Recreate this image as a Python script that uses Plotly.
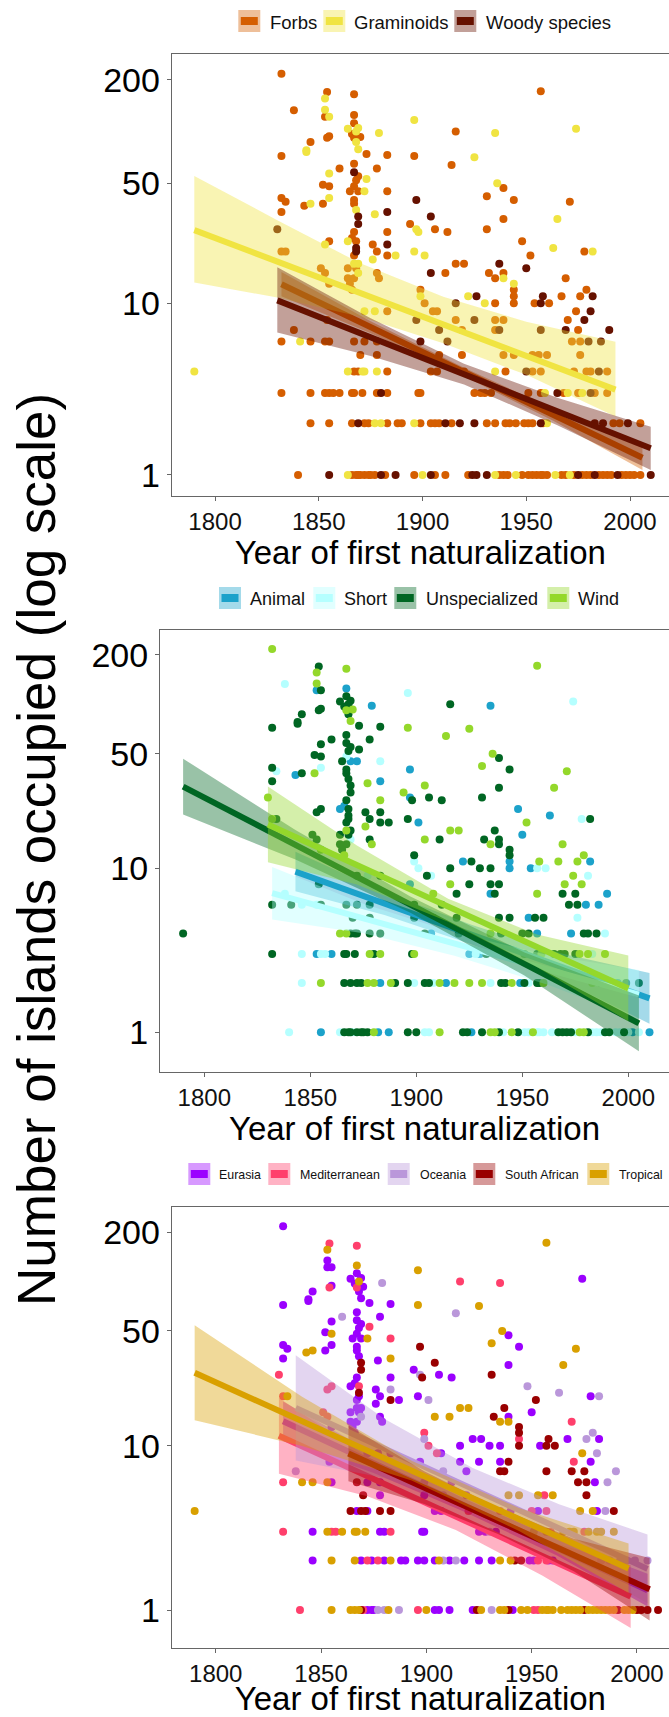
import plotly.graph_objects as go

W, H = 669, 1717
FONT = "Liberation Sans, Arial, Helvetica, sans-serif"

# ---------------- data ----------------
year_first = [
    1832, 1957, 1854, 1867, 1853, 1838, 1853, 1853, 1855, 1867,
    1867, 1869, 1868, 1896, 1974, 1864, 1916, 1935, 1879, 1855,
    1854, 1867, 1870, 1846, 1844, 1844, 1832, 1873, 1883, 1896,
    1925, 1914, 1878, 1860, 1867, 1867, 1855, 1869, 1873, 1852,
    1855, 1936, 1939, 1865, 1867, 1872, 1883, 1931, 1832, 1834,
    1855, 1897, 1944, 1971, 1846, 1843, 1852, 1867, 1832, 1883,
    1877, 1904, 1939, 1965, 1894, 1830, 1897, 1898, 1906, 1912,
    1931, 1948, 1855, 1853, 1864, 1883, 1883, 1963, 1978, 1982,
    1876, 1878, 1896, 1901, 1887, 1952, 1883, 1832, 1834, 1868,
    1916, 1920, 1937, 1876, 1869, 1904, 1911, 1950, 1932, 1935,
    1939, 1939, 1969, 1878, 1879, 1851, 1899, 1944, 1979, 1899,
    1922, 1926, 1944, 1944, 1944, 1958, 1967, 1976, 1982, 1916,
    1930, 1935, 1954, 1957, 1961, 1974, 1981, 1883, 1901, 1905,
    1907, 1877, 1872, 1970, 1978, 1939, 1925, 1897, 1916, 1935,
    1937, 1935, 1957, 1969, 1975, 1990, 1908, 1919, 1838, 1854,
    1832, 1841, 1846, 1853, 1855, 1867, 1872, 1878, 1899, 1912,
    1972, 1976, 1980, 1986, 1870, 1878, 1899, 1908, 1919, 1939,
    1944, 1953, 1956, 1960, 1976, 1864, 1867, 1869, 1871, 1872,
    1878, 1883, 1904, 1907, 1920, 1935, 1940, 1950, 1953, 1957,
    1973, 1979, 1981, 1985, 1989, 1832, 1846, 1853, 1855, 1857,
    1860, 1866, 1867, 1871, 1878, 1880, 1883, 1898, 1899, 1925,
    1928, 1930, 1933, 1951, 1957, 1959, 1965, 1968, 1970, 1975,
    1977, 1981, 1983, 1989, 1846, 1855, 1866, 1869, 1872, 1874,
    1877, 1880, 1883, 1888, 1890, 1896, 1899, 1904, 1906, 1908,
    1911, 1914, 1918, 1925, 1931, 1935, 1940, 1942, 1945, 1949,
    1951, 1953, 1957, 1958, 1960, 1983, 1987, 1992, 1995, 1999, 2005,
    1840, 1855, 1864, 1866, 1868, 1869, 1870, 1872, 1874, 1875,
    1877, 1880, 1882, 1887, 1896, 1900, 1904, 1906, 1911, 1922,
    1924, 1926, 1931, 1935, 1937, 1939, 1941, 1945, 1948, 1951,
    1953, 1955, 1957, 1958, 1960, 1964, 1967, 1969, 1971, 1973,
    1975, 1977, 1979, 1981, 1983, 1985, 1987, 1989, 1991, 1994,
    1996, 1998, 2000, 2002, 2005, 2010,
    1790,
    1868, 1869, 1866, 1868, 1869, 1867, 1868, 1869, 1869, 1867,
    1866, 1868, 1868, 1867, 1867, 1868, 1869, 1867, 1866, 1864,
    1865, 1853, 1855, 1864,
]
islands = [
    217, 172, 170, 165, 156, 133, 134, 122, 122, 125,
    112, 105, 100, 117, 104, 104, 100, 98, 98, 94,
    92, 92, 93, 87, 78, 76, 72, 74, 73, 72,
    71, 64, 61, 61, 65, 58, 57, 55, 53, 49,
    48, 50, 47, 45, 48, 45, 45, 42, 41, 39,
    41, 40, 40, 39, 38, 37, 38, 38, 34, 34,
    33, 32, 31, 31, 29, 27, 27, 26, 27, 26,
    27, 23, 23, 22, 23, 26, 22, 21, 20, 20,
    22, 20, 20, 19, 19, 19, 19, 20, 20, 20,
    17, 17, 17, 18, 17, 15, 15, 16, 15, 14,
    15, 14, 14, 15, 14, 16, 12, 13, 12, 11,
    11, 11, 12, 11, 10, 11, 11, 11, 11, 10,
    10, 10, 10, 10, 10, 9, 9, 9, 10, 9,
    9, 9, 9, 8, 8, 8, 8, 8, 8, 8,
    7, 7, 7, 7, 7, 7, 7, 7, 7, 8,
    6, 6, 6, 6, 6, 6, 6, 6, 6, 6,
    6, 6, 6, 6, 5, 5, 5, 5, 5, 5,
    5, 5, 5, 5, 5, 4, 4, 4, 4, 4,
    4, 4, 4, 4, 4, 4, 4, 4, 4, 4,
    4, 4, 4, 4, 4, 3, 3, 3, 3, 3,
    3, 3, 3, 3, 3, 3, 3, 3, 3, 3,
    3, 3, 3, 3, 3, 3, 3, 3, 3, 3,
    3, 3, 3, 3, 2, 2, 2, 2, 2, 2,
    2, 2, 2, 2, 2, 2, 2, 2, 2, 2,
    2, 2, 2, 2, 2, 2, 2, 2, 2, 2,
    2, 2, 2, 2, 2, 2, 2, 2, 2, 2, 2,
    1, 1, 1, 1, 1, 1, 1, 1, 1, 1,
    1, 1, 1, 1, 1, 1, 1, 1, 1, 1,
    1, 1, 1, 1, 1, 1, 1, 1, 1, 1,
    1, 1, 1, 1, 1, 1, 1, 1, 1, 1,
    1, 1, 1, 1, 1, 1, 1, 1, 1, 1,
    1, 1, 1, 1, 1, 1,
    4,
    87, 79, 97, 52, 45, 40, 35, 32, 29, 26,
    24, 23, 21, 19, 17, 16, 15, 14, 12, 14,
    13, 15, 13, 16,
]
# growth form: F = Forbs, G = Graminoids, W = Woody species
growth_form = [
    "F","F","F","F","G","F","G","F","G","F",
    "F","G","G","G","G","G","F","G","G","F",
    "F","F","F","F","G","G","F","F","F","F",
    "G","F","F","F","F","W","G","F","G","F",
    "F","G","F","F","F","G","F","F","F","F",
    "G","W","F","F","G","F","F","F","F","W",
    "G","W","F","G","F","W","G","G","F","F",
    "F","F","F","G","G","F","W","G","F","G",
    "F","F","G","G","G","F","F","F","F","W",
    "F","F","W","G","G","W","F","W","F","F",
    "F","G","F","F","F","F","F","G","F","G",
    "G","W","F","F","F","W","F","F","W","W",
    "G","F","F","W","F","F","W","F","F","F",
    "F","G","G","F","W","F","W","W","F","F",
    "W","F","W","W","F","W","W","F","F","F",
    "F","G","F","F","F","F","F","F","W","W",
    "F","F","W","W","F","F","F","F","F","F",
    "F","F","F","F","F","G","F","F","G","G",
    "G","F","F","F","F","G","F","W","F","F",
    "F","F","F","W","F","F","F","F","F","F",
    "F","F","F","F","F","W","F","F","F","F",
    "F","F","F","F","F","G","W","F","G","F",
    "G","W","F","F","F","F","F","W","F","F",
    "G","G","F","F","F","G","F","F","F","F",
    "W","F","W","W","F","F","F","F","F","F",
    "F","F","W","F","G","W","W","F","F","W","F",
    "F","W","G","F","F","F","F","F","F","F",
    "F","W","F","W","F","G","W","F","F","F",
    "W","W","W","G","F","F","F","G","F","F",
    "F","F","F","F","F","G","F","F","G","F",
    "W","F","F","F","W","F","F","F","F","W",
    "F","F","F","F","F","W",
    "G",
    "G","G","F","F","F","F","G","W","W","F",
    "F","F","W","F","G","F","G","F","F","F",
    "F","F","F","F",
]
# dispersal: A = Animal, S = Short, U = Unspecialized, W = Wind
dispersal = [
    "W","W","U","W","W","S","W","A","U","A",
    "U","U","U","S","S","U","U","A","A","U",
    "U","W","W","U","U","U","U","U","U","W",
    "W","W","U","U","U","U","U","U","U","U",
    "U","W","U","U","S","A","S","W","U","S",
    "S","A","U","W","U","A","W","U","U","A",
    "W","W","U","W","W","W","A","U","U","U",
    "U","A","U","U","A","W","U","A","S","U",
    "U","U","U","A","U","W","U","W","U","U",
    "W","W","U","W","U","W","U","A","U","W",
    "U","U","W","U","W","U","U","U","W","S",
    "A","U","U","A","A","W","W","W","A","U",
    "U","U","A","S","S","W","S","U","S","U",
    "S","S","U","W","W","U","U","A","W","U",
    "U","A","W","U","U","A","W","U","S","U",
    "U","U","S","S","U","U","U","U","U","U",
    "U","U","A","A","U","U","U","U","U","U",
    "U","A","U","U","S","W","W","U","U","U",
    "U","U","U","A","U","W","U","U","U","A",
    "A","U","U","U","S","U","S","A","S","S",
    "A","U","U","U","W","U","W","U","W","A",
    "S","A","U","U","U","W","U","U","U","U",
    "W","W","S","W","S","W","U","U","U","U",
    "W","W","A","W","U","U","S","U","U","S",
    "W","A","W","W","W","S","U","U","W","A",
    "U","S","U","U","W","W","U","S","A","U","U",
    "S","A","S","U","U","U","S","U","U","U",
    "U","W","A","A","U","U","S","S","W","U",
    "U","A","U","W","W","U","S","W","U","S",
    "S","W","S","S","S","S","U","U","U","U",
    "S","W","W","U","S","S","S","U","U","S",
    "S","U","S","A","S","A",
    "U",
    "U","W","U","U","A","U","U","U","U","U",
    "A","U","U","U","W","U","S","U","W","U",
    "U","U","W","U",
]
# native origin: E = Eurasia, M = Mediterranean, O = Oceania,
# SA = South African, T = Tropical, "" = not shown in the bottom panel
origin = [
    "E","T","M","M","T","","E","E","E","T",
    "E","E","T","T","E","E","M","M","O","E",
    "M","M","E","E","E","E","E","E","E","T",
    "T","O","E","O","E","E","E","E","M","E",
    "T","T","E","E","E","T","M","T","E","E",
    "E","SA","E","T","T","T","E","E","E","T",
    "E","SA","E","T","E","M","O","SA","E","E",
    "SA","O","M","M","E","E","O","O","E","O",
    "E","E","E","O","E","SA","SA","M","T","E",
    "T","T","SA","E","E","T","T","E","SA","T",
    "E","T","M","E","E","M","M","SA","O","O",
    "E","E","SA","M","SA","SA","E","O","E","E",
    "E","E","E","SA","SA","T","O","E","M","M",
    "E","E","E","M","E","SA","E","E","E","E",
    "SA","SA","SA","SA","SA","O","O","E","O","E",
    "M","T","T","T","E","SA","E","E","E","E",
    "SA","SA","E","O","SA","E","E","E","E","T",
    "T","T","M","T","SA","SA","E","SA","SA","E",
    "SA","SA","E","E","M","M","E","M","E","M",
    "T","T","E","O","SA","M","E","T","M","M",
    "T","T","T","T","E","E","M","E","E","E",
    "E","O","E","T","T","M","T","T","T","M",
    "T","T","T","T","E","T","T","E","M","E",
    "M","E","T","E","E","E","E","E","T","O",
    "E","O","E","E","E","T","T","SA","SA","E",
    "E","M","M","E","E","O","O","O","O","O","O",
    "M","T","T","T","T","SA","M","E","E","E",
    "O","O","T","O","M","T","E","E","E","E",
    "SA","T","O","T","T","SA","E","T","T","M",
    "M","T","T","T","T","T","T","T","T","T",
    "SA","T","T","T","T","T","T","T","SA","T",
    "T","T","SA","SA","SA","SA",
    "T",
    "E","E","E","E","E","E","E","SA","SA","E",
    "E","M","SA","E","E","E","O","E","E","E",
    "E","M","E","E",
]

growth_labels = ["Forbs", "Graminoids", "Woody species"]
growth_codes = ["F", "G", "W"]
growth_colors = ["#D55E00", "#F0E442", "#661100"]

dispersal_labels = ["Animal", "Short", "Unspecialized", "Wind"]
dispersal_codes = ["A", "S", "U", "W"]
dispersal_colors = ["#1CA2CA", "#B5FFFF", "#006623", "#94D82B"]

origin_labels = ["Eurasia", "Mediterranean", "Oceania", "South African", "Tropical"]
origin_codes = ["E", "M", "O", "SA", "T"]
origin_colors = ["#9B00FF", "#FF3F6C", "#BA97DA", "#990000", "#D9A000"]

# fitted trends and 95% bands (islands, at given years)
fit_growth = {
    "F": dict(x=[1832, 1875, 1920, 1963, 2006],
              hi=[15.2, 7.87, 4.22, 2.43, 1.48], lo=[11.0, 6.70, 3.76, 2.07, 1.07],
              lx=[1832, 2006], ly=[12.9, 1.26]),
    "G": dict(x=[1790, 1830, 1870, 1910, 1950, 1993],
              hi=[55.2, 30.5, 17.1, 10.9, 7.82, 5.98], lo=[13.2, 10.8, 8.36, 5.85, 3.83, 2.19],
              lx=[1790, 1993], ly=[26.7, 3.14]),
    "W": dict(x=[1830, 1875, 1920, 1965, 2010],
              hi=[16.2, 8.18, 4.44, 2.82, 1.91], lo=[6.75, 4.93, 3.37, 1.95, 1.07],
              lx=[1830, 2010], ly=[10.4, 1.43]),
}
fit_dispersal = {
    "A": dict(x=[1843, 1885, 1926, 1968, 2010],
              hi=[12.6, 7.18, 4.53, 3.03, 2.30], lo=[7.24, 5.20, 3.44, 2.10, 1.13],
              lx=[1843, 2010], ly=[9.55, 1.61]),
    "S": dict(x=[1832, 1875, 1918, 1962, 2005],
              hi=[10.2, 6.08, 4.05, 2.96, 2.40], lo=[4.88, 4.02, 2.93, 1.95, 1.20],
              lx=[1832, 2005], ly=[7.05, 1.70]),
    "U": dict(x=[1790, 1843, 1897, 1951, 2005],
              hi=[46.6, 17.1, 6.76, 3.07, 1.68], lo=[21.3, 11.3, 5.37, 2.22, 0.767],
              lx=[1790, 2005], ly=[31.5, 1.135]),
    "W": dict(x=[1830, 1872, 1915, 1957, 2000],
              hi=[31.5, 13.8, 6.52, 3.95, 2.94], lo=[10.9, 7.96, 4.72, 2.49, 1.17],
              lx=[1830, 2000], ly=[18.5, 1.85]),
}
fit_origin = {
    "E": dict(x=[1832, 1875, 1918, 1962, 2005],
              hi=[18.6, 8.99, 4.76, 2.70, 1.66], lo=[10.7, 6.82, 3.96, 2.15, 1.05],
              lx=[1832, 2005], ly=[14.1, 1.32]),
    "M": dict(x=[1830, 1872, 1914, 1955, 1997],
              hi=[19.5, 8.57, 4.44, 2.69, 1.87], lo=[6.75, 4.93, 3.07, 1.62, 0.778],
              lx=[1830, 1997], ly=[11.5, 1.21]),
    "O": dict(x=[1838, 1880, 1922, 1963, 2005],
              hi=[35.5, 14.6, 7.31, 4.41, 2.88], lo=[8.13, 6.37, 4.02, 2.21, 1.10],
              lx=[1838, 2005], ly=[17.0, 1.78]),
    "SA": dict(x=[1863, 1899, 1934, 1970, 2006],
               hi=[13.3, 7.0, 4.2, 2.72, 2.07], lo=[6.07, 4.42, 2.90, 1.72, 0.863],
               lx=[1863, 2006], ly=[8.97, 1.34]),
    "T": dict(x=[1790, 1841, 1893, 1944, 1996],
              hi=[54.2, 19.9, 8.11, 4.18, 2.54], lo=[14.3, 9.98, 6.15, 3.03, 1.27],
              lx=[1790, 1996], ly=[27.8, 1.79]),
}

# ---------------- figure ----------------
def px(x):
    return x / W


def py(y):
    return 1 - y / H


def rgba(hexcol, a):
    h = hexcol.lstrip("#")
    r, g, b = int(h[0:2], 16), int(h[2:4], 16), int(h[4:6], 16)
    return f"rgba({r},{g},{b},{a})"


fig = go.Figure()

panels = [
    dict(codes=growth_codes, colors=growth_colors, labels=growth_labels,
         group=growth_form, fits=fit_growth, xa="x", ya="y",
         left=171.7, top=54.0, bottom=495.7, xr=[1779.1, 2018.8], yr=[-0.1206, 2.452]),
    dict(codes=dispersal_codes, colors=dispersal_colors, labels=dispersal_labels,
         group=dispersal, fits=fit_dispersal, xa="x2", ya="y2",
         left=160.0, top=630.0, bottom=1071.7, xr=[1779.1, 2019.2], yr=[-0.240, 2.453]),
    dict(codes=origin_codes, colors=origin_colors, labels=origin_labels,
         group=origin, fits=fit_origin, xa="x3", ya="y3",
         left=171.7, top=1206.7, bottom=1648.3, xr=[1779.1, 2015.2], yr=[-0.233, 2.455]),
]

for p in panels:
    # points
    for code, col, lab in zip(p["codes"], p["colors"], p["labels"]):
        xs = [yv for yv, g in zip(year_first, p["group"]) if g == code]
        ys = [iv for iv, g in zip(islands, p["group"]) if g == code]
        fig.add_trace(go.Scatter(x=xs, y=ys, mode="markers", name=lab,
                                 marker=dict(size=8, color=col, line=dict(width=0)),
                                 showlegend=False, xaxis=p["xa"], yaxis=p["ya"]))
    # ribbons + lines
    for code, col, lab in zip(p["codes"], p["colors"], p["labels"]):
        f = p["fits"][code]
        fig.add_trace(go.Scatter(x=f["x"] + f["x"][::-1], y=f["hi"] + f["lo"][::-1],
                                 mode="lines", fill="toself", fillcolor=rgba(col, 0.4),
                                 line=dict(width=0), hoverinfo="skip", showlegend=False,
                                 xaxis=p["xa"], yaxis=p["ya"]))
        fig.add_trace(go.Scatter(x=f["lx"], y=f["ly"], mode="lines", name=lab + " trend",
                                 line=dict(width=6, color=col), showlegend=False,
                                 xaxis=p["xa"], yaxis=p["ya"]))

axis_line = "#666666"
for i, p in enumerate(panels):
    sfx = "" if i == 0 else str(i + 1)
    fig.update_layout(**{
        "xaxis" + sfx: dict(
            domain=[px(p["left"]), 1.0], range=p["xr"], anchor="y" + sfx, automargin=False,
            showgrid=False, zeroline=False, showline=True, linecolor=axis_line,
            linewidth=1, mirror=True, ticks="outside", ticklen=4, tickcolor=axis_line,
            tickvals=[1800, 1850, 1900, 1950, 2000],
            tickfont=dict(family=FONT, size=24, color="#111111"),
            title=dict(text="Year of first naturalization", standoff=0,
                       font=dict(family=FONT, size=33, color="#000000")),
        ),
        "yaxis" + sfx: dict(
            domain=[py(p["bottom"]), py(p["top"])], type="log", range=p["yr"],
            anchor="x" + sfx, automargin=False, showgrid=False, zeroline=False, showline=True,
            linecolor=axis_line, linewidth=1, mirror=False, ticks="outside", ticklen=4,
            tickcolor=axis_line, tickvals=[1, 10, 50, 200], ticktext=["1", "10", "50", "200"],
            tickfont=dict(family=FONT, size=34, color="#000000"),
        ),
    })

# custom legends (ggplot-style keys: translucent square with thick line)
legend_specs = [
    dict(labels=growth_labels, colors=growth_colors, keys=[238.3, 323.3, 454.3],
         texts=[268, 352, 484], yc=21.0, ty=22.5, size=18.5),
    dict(labels=dispersal_labels, colors=dispersal_colors, keys=[219.0, 313.3, 394.3, 547.3],
         texts=[248, 342, 424, 576], yc=598.0, ty=599.5, size=18.0),
    dict(labels=origin_labels, colors=origin_colors, keys=[188.3, 268.3, 387.7, 473.3, 587.3],
         texts=[217, 298, 418, 503, 617], yc=1174.0, ty=1175.0, size=12.4),
]
shapes = []
annotations = []
for spec in legend_specs:
    for lab, col, kx, tx in zip(spec["labels"], spec["colors"], spec["keys"], spec["texts"]):
        shapes.append(dict(type="rect", xref="paper", yref="paper",
                           x0=px(kx), x1=px(kx + 22), y0=py(spec["yc"] + 11), y1=py(spec["yc"] - 11),
                           fillcolor=rgba(col, 0.4), line=dict(width=0), layer="above"))
        shapes.append(dict(type="rect", xref="paper", yref="paper",
                           x0=px(kx + 2.5), x1=px(kx + 19.5), y0=py(spec["yc"] + 4), y1=py(spec["yc"] - 4),
                           fillcolor=col, line=dict(width=0), layer="above"))
        annotations.append(dict(text=lab, xref="paper", yref="paper", x=px(tx), y=py(spec["ty"]),
                                xanchor="left", yanchor="middle", showarrow=False,
                                font=dict(family=FONT, size=spec["size"], color="#111111")))

annotations.append(dict(text="Number of islands occupied (log scale)", xref="paper", yref="paper",
                        x=px(36), y=py(850), xanchor="center", yanchor="middle", textangle=-90,
                        showarrow=False, font=dict(family=FONT, size=53, color="#000000")))

fig.update_layout(
    width=W, height=H, margin=dict(l=0, r=0, t=0, b=0, autoexpand=False),
    paper_bgcolor="white", plot_bgcolor="white",
    showlegend=False, shapes=shapes, annotations=annotations,
    font=dict(family=FONT),
)

# remove the default page margin so the 669x1717 figure fills the window exactly
fig.write_html(
    "out.html",
    config={"displayModeBar": False},
    post_script="document.body.style.margin='0';document.body.style.overflow='hidden';",
)
